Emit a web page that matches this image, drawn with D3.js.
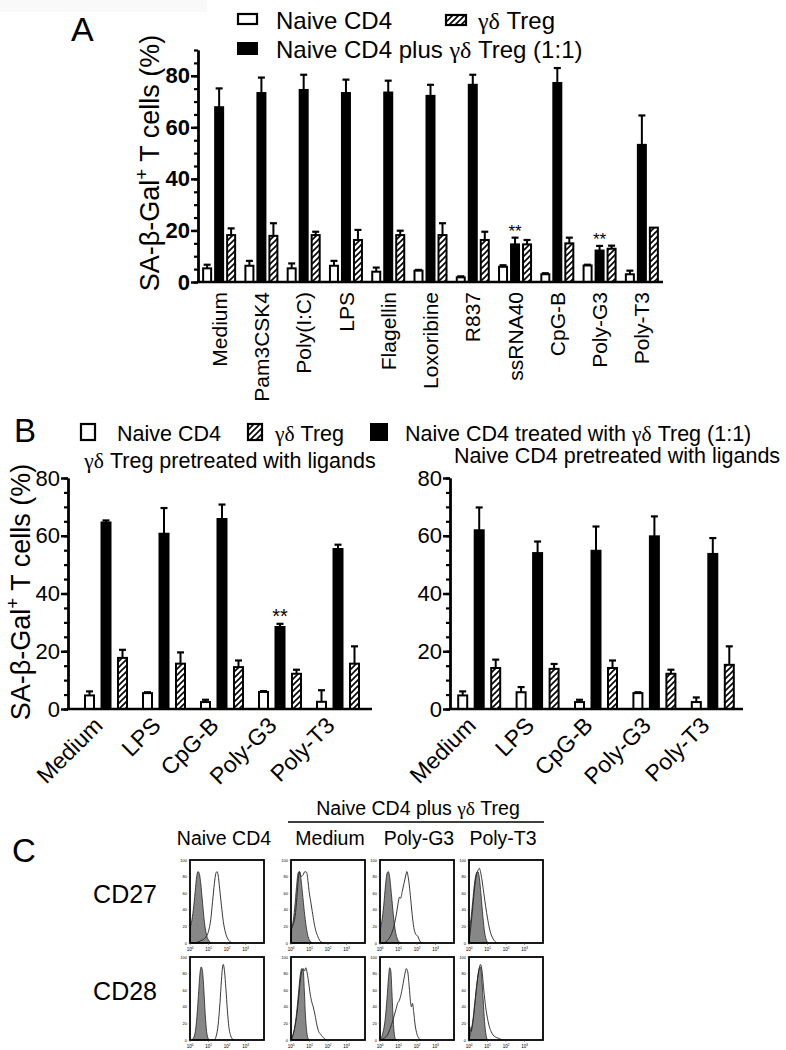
<!DOCTYPE html>
<html>
<head>
<meta charset="utf-8">
<script src="https://cdn.jsdelivr.net/npm/d3@7"></script>
<style>
  body { margin: 0; background: #fff; }
  svg { display: block; }
  text { font-family: "Liberation Sans", Arial, Helvetica, sans-serif; fill: #000; }
</style>
</head>
<body>
<script>
// ---------- panel A data (SA-beta-Gal+ T cells, %) ----------
const ligandsA = ["Medium", "Pam3CSK4", "Poly(I:C)", "LPS", "Flagellin", "Loxoribine", "R837", "ssRNA40", "CpG-B", "Poly-G3", "Poly-T3"]
const naiveA    = [5.3, 6.3, 5.3, 6.3, 4.0, 4.4, 1.8, 5.9, 3.0, 6.4, 3.0]
const naiveErrA = [1.4, 1.9, 1.9, 1.9, 1.6, 0.3, 0.4, 0.6, 0.4, 0.3, 1.4]
const mixA      = [67.8, 73.3, 74.5, 73.3, 73.5, 72.2, 76.5, 14.6, 77.2, 12.2, 53.2]
const mixErrA   = [7.3, 6.0, 5.9, 5.2, 4.6, 4.3, 3.9, 2.6, 5.8, 1.8, 11.4]
const tregA     = [18.2, 17.9, 18.2, 16.3, 18.2, 18.2, 16.3, 14.6, 15.0, 12.9, 21.1]
const tregErrA  = [2.6, 4.9, 1.3, 3.9, 1.7, 4.6, 3.2, 1.7, 2.2, 1.2, 0]
const starsA    = ["", "", "", "", "", "", "", "**", "", "**", ""]

// ---------- panel B data ----------
const ligandsB = ["Medium", "LPS", "CpG-B", "Poly-G3", "Poly-T3"]
// gamma-delta Treg pretreated with ligands
const naiveB1    = [4.7, 5.5, 2.4, 5.9, 2.5]
const naiveErrB1 = [1.4, 0.3, 0.8, 0.3, 4.0]
const mixB1      = [64.6, 60.7, 65.8, 28.4, 55.4]
const mixErrB1   = [0.7, 8.9, 5.0, 1.1, 1.5]
const tregB1     = [17.7, 15.7, 14.5, 12.2, 15.7]
const tregErrB1  = [2.8, 3.9, 2.3, 1.4, 6.0]
const starsB1    = ["", "", "", "**", ""]
// naive CD4 pretreated with ligands
const naiveB2    = [4.7, 5.8, 2.4, 5.5, 2.4]
const naiveErrB2 = [1.4, 1.8, 0.8, 0.3, 1.6]
const mixB2      = [61.9, 54.0, 54.8, 59.8, 53.7]
const mixErrB2   = [7.9, 4.0, 8.4, 6.9, 5.5]
const tregB2     = [14.2, 13.9, 14.2, 12.2, 15.3]
const tregErrB2  = [2.9, 1.7, 2.6, 1.4, 6.4]
const starsB2    = ["", "", "", "", ""]

// ---------- panel C data: [log10 fluorescence, % of max] ----------
const columnsC = ["Naive CD4", "Medium", "Poly-G3", "Poly-T3"]
const rowsC = ["CD27", "CD28"]
const isoNaive27   = [[0,18],[0.08,25],[0.18,40],[0.28,62],[0.36,80],[0.43,86],[0.5,84],[0.58,72],[0.68,48],[0.78,25],[0.9,9],[1.02,3],[1.15,0]]
const stainNaive27 = [[0.3,0],[0.5,2],[0.7,4],[0.85,7],[1.0,14],[1.12,28],[1.22,50],[1.32,72],[1.4,84],[1.46,86],[1.52,82],[1.6,66],[1.7,45],[1.8,26],[1.9,14],[2.0,7],[2.1,3],[2.2,1],[2.3,0]]
const isoMed27     = [[0,15],[0.1,24],[0.2,42],[0.3,68],[0.38,84],[0.45,86],[0.52,80],[0.62,60],[0.72,38],[0.82,20],[0.92,8],[1.05,2],[1.15,0]]
const stainMed27   = [[0,0],[0.03,18],[0.12,22],[0.22,32],[0.32,55],[0.4,78],[0.46,86],[0.55,80],[0.65,82],[0.75,86],[0.85,85],[0.92,74],[0.98,62],[1.05,52],[1.15,38],[1.25,24],[1.35,14],[1.45,8],[1.55,3],[1.65,1],[1.75,0]]
const isoG27       = [[0,16],[0.1,26],[0.2,45],[0.3,70],[0.38,84],[0.45,86],[0.52,80],[0.62,58],[0.72,34],[0.82,16],[0.92,6],[1.05,1],[1.15,0]]
const stainG27     = [[0.2,0],[0.4,3],[0.6,10],[0.75,20],[0.88,34],[0.98,48],[1.05,55],[1.12,54],[1.2,62],[1.3,72],[1.4,82],[1.45,86],[1.52,80],[1.6,66],[1.68,48],[1.76,30],[1.85,16],[1.95,10],[2.05,8],[2.12,4],[2.2,1],[2.3,0]]
const isoT27       = [[0,14],[0.1,28],[0.2,50],[0.3,72],[0.4,84],[0.47,86],[0.55,80],[0.65,58],[0.75,32],[0.85,12],[0.95,3],[1.05,0]]
const stainT27     = [[0,0],[0.1,20],[0.2,42],[0.3,66],[0.4,82],[0.5,88],[0.56,90],[0.62,86],[0.7,76],[0.8,60],[0.9,44],[1.0,30],[1.1,18],[1.2,10],[1.3,5],[1.4,2],[1.5,0]]
const isoNaive28   = [[0.1,0],[0.25,6],[0.35,22],[0.45,52],[0.53,78],[0.6,88],[0.67,84],[0.75,60],[0.82,32],[0.9,10],[0.98,2],[1.05,0]]
const stainNaive28 = [[1.3,0],[1.42,5],[1.52,18],[1.62,45],[1.7,72],[1.76,88],[1.8,91],[1.86,84],[1.94,62],[2.02,36],[2.1,16],[2.2,5],[2.3,1],[2.4,0]]
const isoMed28     = [[0,0],[0.1,5],[0.2,15],[0.3,32],[0.4,55],[0.5,78],[0.58,86],[0.66,84],[0.72,60],[0.78,30],[0.85,10],[0.92,2],[1.0,0]]
const stainMed28   = [[0,0],[0.15,10],[0.3,28],[0.42,52],[0.52,75],[0.6,84],[0.66,86],[0.73,83],[0.8,87],[0.88,80],[0.96,68],[1.04,55],[1.12,46],[1.2,40],[1.3,30],[1.4,18],[1.5,10],[1.6,7],[1.7,4],[1.8,2],[1.9,0]]
const isoG28       = [[0,0],[0.15,8],[0.28,25],[0.38,50],[0.46,75],[0.52,87],[0.58,84],[0.64,60],[0.7,30],[0.76,10],[0.82,2],[0.9,0]]
const stainG28     = [[0,0],[0.2,2],[0.4,6],[0.55,14],[0.7,24],[0.85,36],[0.95,44],[1.05,48],[1.15,56],[1.25,68],[1.35,80],[1.42,86],[1.5,82],[1.58,64],[1.65,46],[1.7,40],[1.76,44],[1.82,34],[1.9,18],[2.0,7],[2.1,2],[2.2,0]]
const isoT28       = [[0,0],[0.1,10],[0.2,22],[0.32,45],[0.44,70],[0.55,86],[0.62,88],[0.68,78],[0.76,50],[0.84,22],[0.92,6],[1.0,0]]
const stainT28     = [[0,0],[0.04,16],[0.1,10],[0.2,20],[0.32,45],[0.44,70],[0.55,86],[0.62,91],[0.7,84],[0.8,60],[0.9,40],[1.0,26],[1.1,16],[1.2,10],[1.3,6],[1.4,4],[1.5,3],[1.6,2],[1.7,1],[1.8,0]]

// ---------- page ----------
const W = 786, H = 1050
const svg = d3.select("body").append("svg").attr("width", W).attr("height", H)
svg.append("rect").attr("width", W).attr("height", H).attr("fill", "#fff")
svg.append("rect").attr("width", 207).attr("height", 12).attr("fill", "#f9f9f9")

const pat = svg.append("defs").append("pattern")
    .attr("id", "hatch").attr("patternUnits", "userSpaceOnUse")
    .attr("width", 6).attr("height", 6)
pat.append("rect").attr("width", 6).attr("height", 6).attr("fill", "#fff")
pat.append("path")
    .attr("d", "M-1,1 l2,-2 M0,6 l6,-6 M5,7 l2,-2")
    .attr("stroke", "#000").attr("stroke-width", 1.6)

const fills = { open: "#fff", black: "#000", hatch: "url(#hatch)" }

// text with the greek gamma-delta in a serif face, like the original
function richText(sel, str) {
    str.split(/(γδ)/).forEach(part => {
        if (part === "") return
        const t = sel.append("tspan").text(part)
        if (part === "γδ") t.style("font-family", "'Liberation Serif', 'Times New Roman', serif")
    })
    return sel
}

function yTitle(g, bx, cy, size) {
    const t = g.append("text")
        .attr("transform", `translate(${bx},${cy}) rotate(-90)`)
        .attr("text-anchor", "middle").attr("font-size", size)
    t.append("tspan").text("SA-β-Gal")
    t.append("tspan").attr("dy", -size * 0.4).attr("font-size", size * 0.7).text("+")
    t.append("tspan").attr("dy", size * 0.4).text(" T cells (%)")
}

function yAxis(g, y, x0, majors, minors, fontSize, bold) {
    g.append("g").attr("transform", `translate(${x0},0)`)
        .call(d3.axisLeft(y).tickValues(minors).tickSize(4).tickSizeOuter(0).tickFormat(""))
        .call(a => a.selectAll("line, path").attr("stroke", "#000").attr("stroke-width", 2.2))
    g.append("g").attr("transform", `translate(${x0},0)`)
        .call(d3.axisLeft(y).tickValues(majors).tickSize(7).tickPadding(1).tickSizeOuter(0))
        .call(a => a.selectAll("line, path").attr("stroke", "#000").attr("stroke-width", 2.5))
        .call(a => a.selectAll("text")
            .attr("font-family", null).attr("font-size", fontSize)
            .attr("font-weight", bold ? "bold" : "normal").attr("fill", "#000"))
        .attr("font-family", null).attr("font-size", null)
}

// grouped bars: open, black, hatched; upper error bars only
function drawBars(g, cats, series, x, y, barW, gap, stars, starSize) {
    series.forEach((s, i) => {
        const off = (i - 1) * gap
        cats.forEach((c, j) => {
            const cx = x(c) + x.bandwidth() / 2 + off
            const v = s.vals[j], e = s.errs[j]
            if (e > 0) {
                g.append("line").attr("x1", cx).attr("x2", cx).attr("y1", y(v)).attr("y2", y(v + e))
                    .attr("stroke", "#000").attr("stroke-width", 2)
                g.append("line").attr("x1", cx - 3.5).attr("x2", cx + 3.5).attr("y1", y(v + e)).attr("y2", y(v + e))
                    .attr("stroke", "#000").attr("stroke-width", 2.2)
            }
            g.append("rect")
                .attr("x", cx - barW / 2).attr("y", y(v))
                .attr("width", barW).attr("height", y(0) - y(v))
                .attr("fill", fills[s.kind]).attr("stroke", "#000").attr("stroke-width", 2)
            if (s.kind === "black" && stars[j]) {
                g.append("text").attr("x", cx).attr("y", y(v + e) - 1)
                    .attr("text-anchor", "middle").attr("font-size", starSize).text(stars[j])
            }
        })
    })
}

// ================= panel A =================
const gA = svg.append("g")
gA.append("text").attr("x", 71).attr("y", 41).attr("font-size", 34).text("A")

const yA = d3.scaleLinear().domain([0, 90]).range([282, 50])
const xA = d3.scaleBand().domain(ligandsA).range([198, 663])

// legend
gA.append("rect").attr("x", 238).attr("y", 14).attr("width", 19).attr("height", 10)
    .attr("fill", "#fff").attr("stroke", "#000").attr("stroke-width", 2.2)
gA.append("rect").attr("x", 238).attr("y", 43).attr("width", 19).attr("height", 11)
    .attr("fill", "#000").attr("stroke", "#000").attr("stroke-width", 2)
gA.append("rect").attr("x", 446).attr("y", 15).attr("width", 20).attr("height", 10)
    .attr("fill", "url(#hatch)").attr("stroke", "#000").attr("stroke-width", 2.2)
gA.append("text").attr("x", 276).attr("y", 29).attr("font-size", 24).text("Naive CD4")
richText(gA.append("text").attr("x", 276).attr("y", 58).attr("font-size", 24), "Naive CD4 plus γδ Treg (1:1)")
richText(gA.append("text").attr("x", 478).attr("y", 29).attr("font-size", 24), "γδ Treg")

yAxis(gA, yA, 198, [0, 20, 40, 60, 80], d3.range(0, 91, 5), 22, true)
yTitle(gA, 159, 163, 27)

drawBars(gA, ligandsA, [
    { kind: "open", vals: naiveA, errs: naiveErrA },
    { kind: "black", vals: mixA, errs: mixErrA },
    { kind: "hatch", vals: tregA, errs: tregErrA }
], xA, yA, 8, 12, starsA, 17)

gA.append("line").attr("x1", 197).attr("x2", 663).attr("y1", yA(0)).attr("y2", yA(0))
    .attr("stroke", "#000").attr("stroke-width", 2.5)

gA.append("g").attr("transform", `translate(0,${yA(0)})`)
    .call(d3.axisBottom(xA).tickSize(0))
    .call(a => a.select(".domain").remove())
    .call(a => a.selectAll("text")
        .attr("font-family", null).attr("font-size", 21).attr("fill", "#000")
        .attr("transform", "rotate(-90)").attr("text-anchor", "end")
        .attr("x", -10).attr("y", 0).attr("dy", "0.36em"))

// ================= panel B =================
const gB = svg.append("g")
gB.append("text").attr("x", 14).attr("y", 442).attr("font-size", 33).text("B")

// legend
gB.append("rect").attr("x", 81).attr("y", 424).attr("width", 14).attr("height", 16)
    .attr("fill", "#fff").attr("stroke", "#000").attr("stroke-width", 2.2)
gB.append("text").attr("x", 117).attr("y", 441).attr("font-size", 21.5).text("Naive CD4")
gB.append("rect").attr("x", 248).attr("y", 424).attr("width", 14).attr("height", 16)
    .attr("fill", "url(#hatch)").attr("stroke", "#000").attr("stroke-width", 2.2)
richText(gB.append("text").attr("x", 275).attr("y", 441).attr("font-size", 21.5), "γδ Treg")
gB.append("rect").attr("x", 371).attr("y", 424).attr("width", 16).attr("height", 16)
    .attr("fill", "#000").attr("stroke", "#000").attr("stroke-width", 2)
richText(gB.append("text").attr("x", 405).attr("y", 441).attr("font-size", 21.5), "Naive CD4 treated with γδ Treg (1:1)")

const yB = d3.scaleLinear().domain([0, 80]).range([709, 478])

const panelsB = [
    { title: "γδ Treg pretreated with ligands", tx: 230, ty: 468, axisX: 68, axisEnd: 372, range: [77, 367],
      naive: naiveB1, naiveErr: naiveErrB1, mix: mixB1, mixErr: mixErrB1, treg: tregB1, tregErr: tregErrB1, stars: starsB1 },
    { title: "Naive CD4 pretreated with ligands", tx: 617, ty: 463, axisX: 450, axisEnd: 743, range: [450, 742],
      naive: naiveB2, naiveErr: naiveErrB2, mix: mixB2, mixErr: mixErrB2, treg: tregB2, tregErr: tregErrB2, stars: starsB2 }
]

panelsB.forEach(p => {
    const xB = d3.scaleBand().domain(ligandsB).range(p.range)
    richText(gB.append("text").attr("x", p.tx).attr("y", p.ty).attr("text-anchor", "middle").attr("font-size", 21.5), p.title)
    yAxis(gB, yB, p.axisX, [0, 20, 40, 60, 80], d3.range(0, 81, 5), 22, false)
    drawBars(gB, ligandsB, [
        { kind: "open", vals: p.naive, errs: p.naiveErr },
        { kind: "black", vals: p.mix, errs: p.mixErr },
        { kind: "hatch", vals: p.treg, errs: p.tregErr }
    ], xB, yB, 9, 16.5, p.stars, 20)
    gB.append("line").attr("x1", p.axisX - 1).attr("x2", p.axisEnd).attr("y1", yB(0)).attr("y2", yB(0))
        .attr("stroke", "#000").attr("stroke-width", 2.5)
    gB.append("g").attr("transform", `translate(0,${yB(0)})`)
        .call(d3.axisBottom(xB).tickSize(0))
        .call(a => a.select(".domain").remove())
        .call(a => a.selectAll("text")
            .attr("font-family", null).attr("font-size", 23).attr("fill", "#000")
            .attr("text-anchor", "end").attr("x", 0).attr("y", 0).attr("dy", null)
            .attr("transform", "translate(-2,18) rotate(-45)"))
})
yTitle(gB, 30, 592, 27)

// ================= panel C =================
const gC = svg.append("g")
gC.append("text").attr("x", 12).attr("y", 862).attr("font-size", 33).text("C")

richText(gC.append("text").attr("x", 418).attr("y", 815).attr("text-anchor", "middle").attr("font-size", 19.5), "Naive CD4 plus γδ Treg")
gC.append("line").attr("x1", 288).attr("x2", 544).attr("y1", 822).attr("y2", 822)
    .attr("stroke", "#000").attr("stroke-width", 1.5)

const colX = [190, 291, 380, 469]
const colCenters = [224, 330, 419, 503]
const rowY = [860, 957]
const boxW = 74, boxH = 83

columnsC.forEach((c, i) => {
    gC.append("text").attr("x", colCenters[i]).attr("y", 845).attr("text-anchor", "middle")
        .attr("font-size", 19.5).text(c)
})
rowsC.forEach((r, i) => {
    gC.append("text").attr("x", 157).attr("y", rowY[i] + 43).attr("text-anchor", "end")
        .attr("font-size", 25).text(r)
})

const histos = [
    [isoNaive27, stainNaive27], [isoMed27, stainMed27], [isoG27, stainG27], [isoT27, stainT27],
    [isoNaive28, stainNaive28], [isoMed28, stainMed28], [isoG28, stainG28], [isoT28, stainT28]
]

function drawHisto(g, x0, y0, iso, stain) {
    const hx = d3.scaleLinear().domain([0, 4]).range([x0, x0 + boxW])
    const hy = d3.scaleLinear().domain([0, 100]).range([y0 + boxH, y0])
    g.append("path").datum(iso)
        .attr("d", d3.area().x(d => hx(d[0])).y0(hy(0)).y1(d => hy(d[1])).curve(d3.curveMonotoneX))
        .attr("fill", "#878787").attr("stroke", "#222").attr("stroke-width", 0.8)
    g.append("path").datum(stain)
        .attr("d", d3.line().x(d => hx(d[0])).y(d => hy(d[1])).curve(d3.curveMonotoneX))
        .attr("fill", "none").attr("stroke", "#222").attr("stroke-width", 0.9)
    g.append("rect").attr("x", x0).attr("y", y0).attr("width", boxW).attr("height", boxH)
        .attr("fill", "none").attr("stroke", "#000").attr("stroke-width", 1.8)
    // tiny axis labels
    d3.range(0, 101, 20).forEach(v => {
        g.append("text").attr("x", x0 - 3).attr("y", hy(v) + 1.5).attr("text-anchor", "end")
            .attr("font-size", 4).attr("fill", "#444").text(v)
        g.append("line").attr("x1", x0 - 1.5).attr("x2", x0).attr("y1", hy(v)).attr("y2", hy(v))
            .attr("stroke", "#444").attr("stroke-width", 0.5)
    })
    d3.range(0, 4).forEach(k => {
        const t = g.append("text").attr("x", hx(k)).attr("y", y0 + boxH + 8).attr("text-anchor", "middle")
            .attr("font-size", 4.5).attr("fill", "#444")
        t.append("tspan").text("10")
        t.append("tspan").attr("dy", -2).attr("font-size", 3).text(k)
        g.append("line").attr("x1", hx(k)).attr("x2", hx(k)).attr("y1", y0 + boxH).attr("y2", y0 + boxH + 2)
            .attr("stroke", "#444").attr("stroke-width", 0.5)
    })
}

histos.forEach((h, i) => {
    const r = Math.floor(i / 4), c = i % 4
    drawHisto(gC, colX[c], rowY[r], h[0], h[1])
})
</script>
</body>
</html>
